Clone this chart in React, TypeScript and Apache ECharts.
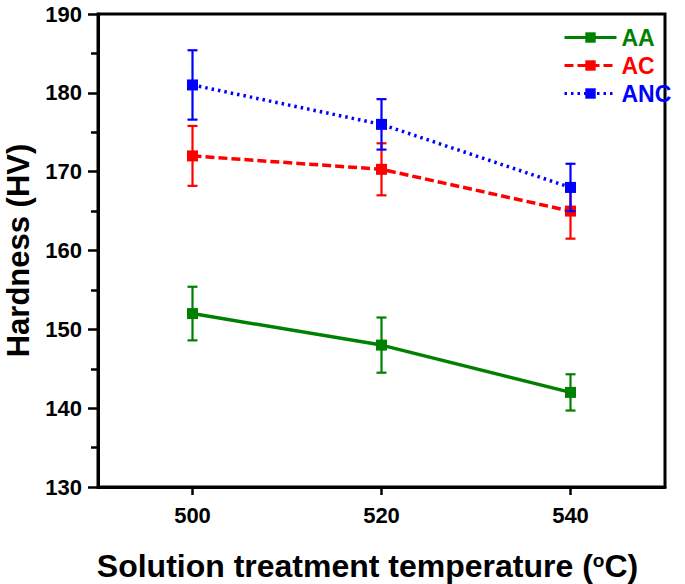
import React, { useEffect, useRef } from "react";
import * as echarts from "echarts";

const temps = [500, 520, 540];
const xTicks = [500, 520, 540];
const seriesNames = ["AA", "AC", "ANC"];
const aaMean = [152, 148, 142];
const aaErr = [3.4, 3.5, 2.3];
const acMean = [172, 170.3, 165];
const acErr = [3.8, 3.3, 3.5];
const ancMean = [181, 176, 168];
const ancErr = [4.4, 3.2, 3.0];
const colors = ["#008000", "#ff0000", "#0000ff"];
const lineTypes: any[] = ["solid", [9, 4], [2.5, 4]];

const FONT = "'Liberation Sans', Arial, sans-serif";

export default function App() {
  const ref = useRef<HTMLDivElement>(null);
  useEffect(() => {
    if (!ref.current) return;
    const chart = echarts.init(ref.current, null, { renderer: "svg" });
    const means = [aaMean, acMean, ancMean];
    const errs = [aaErr, acErr, ancErr];

    const lineSeries = seriesNames.map((name, i) => ({
      name,
      type: "line",
      data: temps.map((t, j) => [t, means[i][j]]),
      symbol: "rect",
      symbolSize: 11,
      z: 3 + i,
      itemStyle: { color: colors[i] },
      lineStyle: { color: colors[i], width: 3.5, type: lineTypes[i] },
    }));

    const errSeries = seriesNames.map((name, i) => ({
      name: name + "-err",
      type: "custom",
      z: 3 + i,
      data: temps.map((t, j) => [t, means[i][j] - errs[i][j], means[i][j] + errs[i][j]]),
      encode: { x: 0, y: [1, 2] },
      renderItem: (params: any, api: any) => {
        const x = api.value(0);
        const lo = api.coord([x, api.value(1)]);
        const hi = api.coord([x, api.value(2)]);
        const hw = 5;
        const style = { stroke: colors[i], lineWidth: 2.2 };
        return {
          type: "group",
          children: [
            { type: "line", shape: { x1: lo[0], y1: lo[1], x2: hi[0], y2: hi[1] }, style },
            { type: "line", shape: { x1: lo[0] - hw, y1: lo[1], x2: lo[0] + hw, y2: lo[1] }, style },
            { type: "line", shape: { x1: hi[0] - hw, y1: hi[1], x2: hi[0] + hw, y2: hi[1] }, style },
          ],
        };
      },
    }));

    chart.setOption({
      animation: false,
      backgroundColor: "#fff",
      textStyle: { fontFamily: FONT },
      grid: {
        left: 98,
        right: 20,
        top: 14,
        bottom: 97,
        show: true,
        borderColor: "#000",
        borderWidth: 3,
        containLabel: false,
        outerBoundsMode: "none",
      },
      legend: {
        orient: "vertical",
        left: 563,
        top: 26,
        padding: 0,
        itemWidth: 52,
        itemHeight: 13,
        itemGap: 5,
        lineStyle: { width: 3 },
        data: seriesNames.map((n, i) => ({
          name: n,
          textStyle: { color: colors[i], fontSize: 23, fontWeight: "bold", fontFamily: FONT },
        })),
      },
      xAxis: {
        type: "value",
        min: 490,
        max: 550,
        name: "Solution treatment temperature ({sup|o}C)",
        nameLocation: "middle",
        nameGap: 64,
        nameTextStyle: {
          fontSize: 32,
          lineHeight: 30,
          fontWeight: "bold",
          color: "#000",
          fontFamily: FONT,
          padding: [0, 28, 0, 0],
          rich: {
            sup: { fontSize: 19, lineHeight: 30, fontWeight: "bold", verticalAlign: "top", color: "#000", fontFamily: FONT, padding: [0, 0, 12, 0] },
          },
        },
        axisLine: { show: true, lineStyle: { color: "#000", width: 3 } },
        axisTick: { show: true, customValues: xTicks, length: 8, lineStyle: { color: "#000", width: 2.5 } },
        axisLabel: {
          customValues: xTicks,
          fontSize: 22,
          fontWeight: "bold",
          color: "#000",
          margin: 17,
          fontFamily: FONT,
        },
        splitLine: { show: false },
      },
      yAxis: {
        type: "value",
        min: 130,
        max: 190,
        interval: 10,
        name: "Hardness (HV)",
        nameLocation: "middle",
        nameGap: 64,
        nameTextStyle: { fontSize: 31, lineHeight: 31, fontWeight: "bold", color: "#000", fontFamily: FONT },
        axisLine: { show: true, lineStyle: { color: "#000", width: 3 } },
        axisTick: { show: true, length: 10, lineStyle: { color: "#000", width: 2.5 } },
        minorTick: { show: true, splitNumber: 2, length: 7, lineStyle: { color: "#000", width: 2.5 } },
        axisLabel: {
          fontSize: 22,
          fontWeight: "bold",
          color: "#000",
          margin: 16,
          fontFamily: FONT,
        },
        splitLine: { show: false },
      },
      series: [...errSeries, ...lineSeries],
    });
    return () => chart.dispose();
  }, []);
  return (
    <div
      ref={ref}
      style={{ position: "absolute", left: 0, top: 0, width: 685, height: 584 }}
    />
  );
}
